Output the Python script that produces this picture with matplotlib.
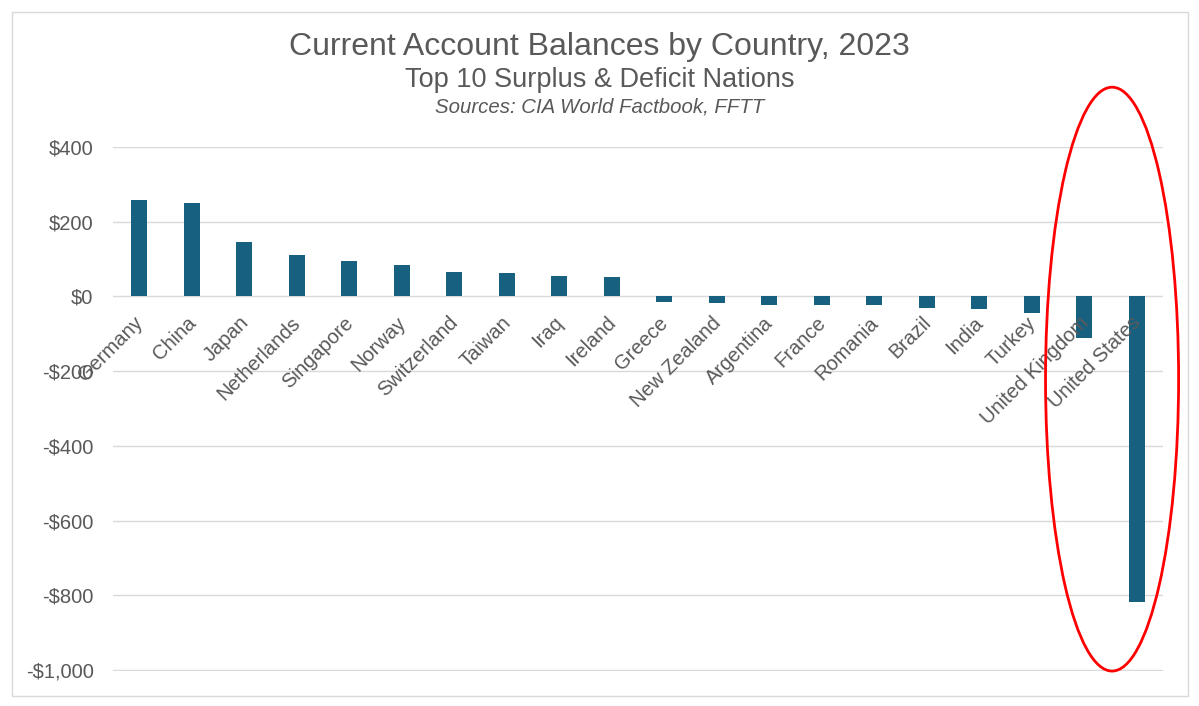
import matplotlib.pyplot as plt
from matplotlib.patches import Ellipse, Rectangle

plt.rcParams['font.family'] = ['Liberation Sans', 'DejaVu Sans']

countries = ['Germany', 'China', 'Japan', 'Netherlands', 'Singapore', 'Norway',
             'Switzerland', 'Taiwan', 'Iraq', 'Ireland', 'Greece', 'New Zealand',
             'Argentina', 'France', 'Romania', 'Brazil', 'India', 'Turkey',
             'United Kingdom', 'United States']
balance = [259, 250, 147, 110, 96, 83, 65, 63, 55, 51,
           -15, -17, -22, -22, -24, -32, -34, -44, -110, -818]
yticks = [400, 200, 0, -200, -400, -600, -800, -1000]

text_col = '#595959'
bar_col = '#17607F'

fig = plt.figure(figsize=(11.99, 7.06), dpi=100)
ax = fig.add_axes([0.0942, 0.0496, 0.8758, 0.7422])

x = range(len(countries))
ax.bar(x, balance, width=0.3, color=bar_col, zorder=3)

ax.set_xlim(-0.5, len(countries) - 0.5)
ax.set_ylim(-1002, 400)
ax.set_yticks(yticks)
ax.set_yticklabels([('-' if v < 0 else '') + '${:,}'.format(abs(v)) for v in yticks],
                   fontsize=14.5, color=text_col)
ax.tick_params(axis='y', length=0, pad=14)
ax.set_xticks([])
ax.grid(axis='y', color='#D9D9D9', linewidth=1, zorder=0)
for s in ax.spines.values():
    s.set_visible(False)

# category labels hang from the zero line, rotated like Excel does
for i, name in enumerate(countries):
    ax.annotate(name, (i, 0), xytext=(-4, -12), textcoords='offset points',
                rotation=45, rotation_mode='anchor', ha='right', va='top',
                fontsize=14.5, color=text_col, zorder=4)

fig.text(0.5, 0.933, 'Current Account Balances by Country, 2023',
         ha='center', va='center', fontsize=23, color=text_col)
fig.text(0.5, 0.887, 'Top 10 Surplus & Deficit Nations',
         ha='center', va='center', fontsize=19.5, color=text_col)
fig.text(0.5, 0.848, 'Sources: CIA World Factbook, FFTT',
         ha='center', va='center', fontsize=14.7, style='italic', color=text_col)

fig.patches.append(Rectangle((0.010, 0.014), 0.981, 0.969, transform=fig.transFigure,
                             fill=False, edgecolor='#D9D9D9', linewidth=1))
fig.patches.append(Ellipse((0.9275, 0.463), 0.111, 0.827, transform=fig.transFigure,
                           fill=False, edgecolor='#FF0000', linewidth=2, zorder=10))

fig.savefig('out.png', dpi=100)
